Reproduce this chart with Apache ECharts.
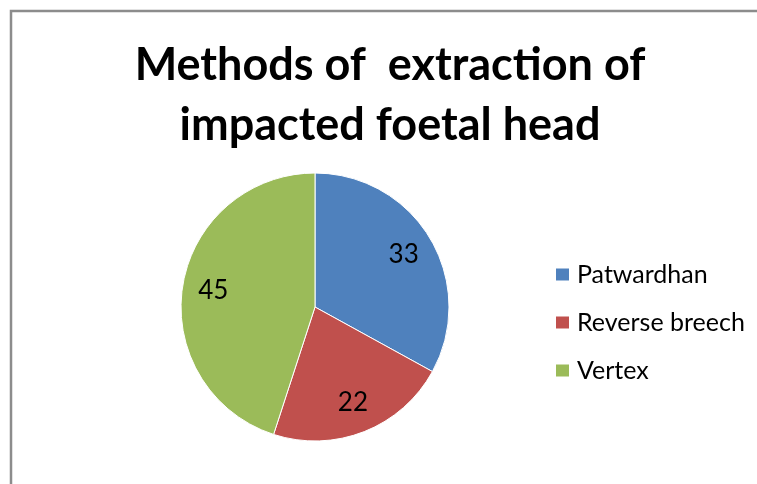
<!DOCTYPE html>
<html>
<head>
    <meta charset="utf-8">
    <title>Methods of extraction</title>
    <script src="https://cdn.jsdelivr.net/npm/echarts@6/dist/echarts.min.js"></script>
    <style>
        html, body, #main {
            width: 100%;
            height: 100%;
            margin: 0;
            background: #fff;
        }
    </style>
</head>
<body>
    <div id="main"></div>
    <script type="text/javascript">
        // chart data
        var methods = ['Patwardhan', 'Reverse breech', 'Vertex'];
        var counts = [33, 22, 45];
        var colors = ['#4F81BD', '#C0504D', '#9BBB59'];

        var pieData = methods.map(function (name, i) {
            return { name: name, value: counts[i], itemStyle: { color: colors[i] } };
        });
        // same data, transparent, only used to place labels further out
        var labelData = methods.map(function (name, i) {
            return { name: name, value: counts[i], itemStyle: { color: 'rgba(0,0,0,0)' } };
        });

        var myChart = echarts.init(document.getElementById('main'));
        var option = {
            animation: false,
            title: {
                text: 'Methods of  extraction of\nimpacted foetal head',
                left: 385,
                textAlign: 'center',
                top: 30,
                textStyle: {
                    fontFamily: 'Lato',
                    fontWeight: 'bold',
                    fontSize: 45,
                    lineHeight: 60,
                    color: '#000'
                }
            },
            legend: {
                orient: 'vertical',
                left: 549,
                top: 257,
                itemWidth: 15,
                itemHeight: 14,
                itemGap: 23,
                icon: 'rect',
                data: methods,
                textStyle: {
                    fontFamily: 'Lato',
                    fontSize: 25,
                    lineHeight: 24,
                    color: '#000',
                    padding: [0, 0, 0, 2]
                }
            },
            graphic: [{
                type: 'rect',
                shape: { x: 11, y: 11, width: 900, height: 600 },
                style: { fill: 'none', stroke: '#8c8c8c', lineWidth: 2.5 },
                silent: true
            }],
            series: [{
                type: 'pie',
                center: [315, 307],
                radius: 134,
                startAngle: 90,
                clockwise: true,
                label: { show: false },
                labelLine: { show: false },
                itemStyle: { borderColor: '#fff', borderWidth: 1 },
                emphasis: { disabled: true },
                data: pieData
            }, {
                type: 'pie',
                center: [315, 307],
                radius: [66, 134],
                startAngle: 90,
                clockwise: true,
                silent: true,
                legendHoverLink: false,
                label: {
                    show: true,
                    position: 'inside',
                    formatter: '{c}',
                    fontFamily: 'Lato',
                    fontSize: 26,
                    color: '#000'
                },
                labelLine: { show: false },
                emphasis: { disabled: true },
                data: labelData
            }]
        };
        myChart.setOption(option, true);
    </script>
</body>
</html>
